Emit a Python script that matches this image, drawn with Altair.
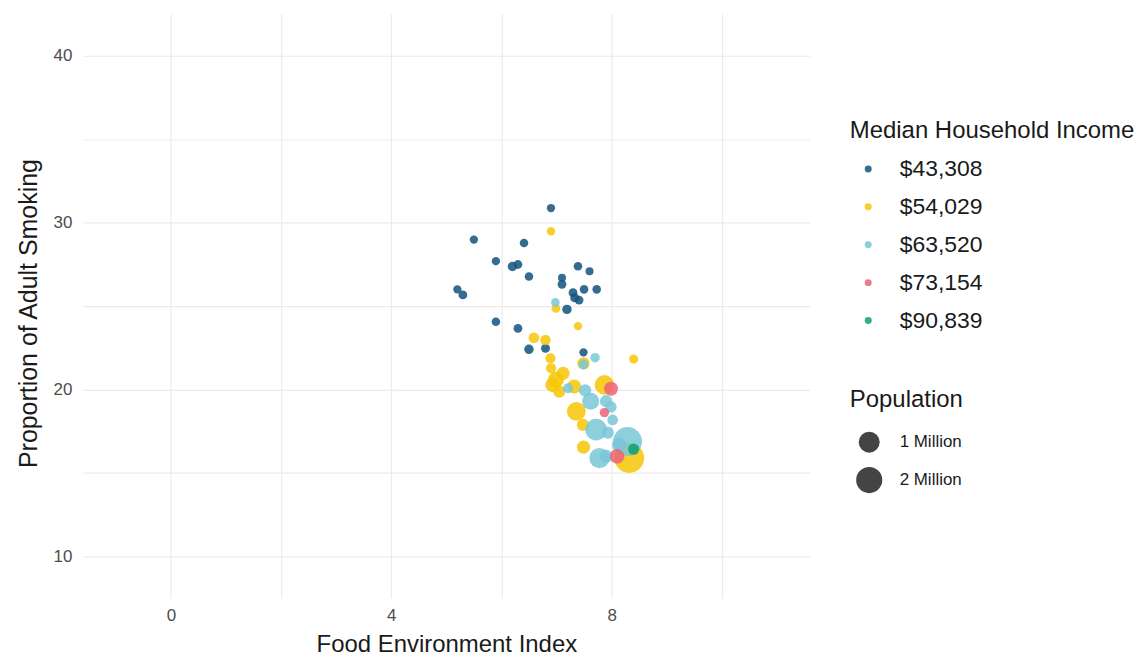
import altair as alt
import pandas as pd

income_levels = ["$43,308", "$54,029", "$63,520", "$73,154", "$90,839"]
palette = ["#12537F", "#F7C705", "#7AC7D7", "#EC637A", "#0E9F6E"]

# $43,308 group
g1_x = [6.90, 5.50, 6.41, 5.90, 6.20, 6.30, 6.50, 7.39, 7.60, 7.10, 7.10, 5.20, 5.30, 7.50,
        7.30, 7.33, 7.41, 7.73, 7.19, 5.90, 6.30, 6.50, 6.80, 7.49]
g1_y = [30.87, 28.98, 28.78, 27.69, 27.37, 27.49, 26.77, 27.39, 27.09, 26.69, 26.30, 26.00, 25.67, 26.00,
        25.80, 25.50, 25.36, 26.00, 24.80, 24.06, 23.66, 22.41, 22.47, 22.23]
g1_pop = [15000, 15000, 20000, 15000, 40000, 25000, 20000, 20000, 10000, 10000, 25000, 15000, 25000, 20000,
          25000, 30000, 25000, 20000, 40000, 20000, 25000, 40000, 30000, 15000]

# $54,029 group
g2_x = [6.90, 6.99, 7.39, 6.59, 6.80, 6.89, 7.49, 8.40, 6.90, 7.12, 6.99, 6.93, 7.05, 7.32,
        7.87, 7.36, 7.48, 7.49, 8.32]
g2_y = [29.48, 24.86, 23.80, 23.10, 22.97, 21.87, 21.57, 21.83, 21.28, 20.97, 20.60, 20.28, 19.88, 20.18,
        20.28, 18.70, 17.88, 16.55, 15.90]
g2_pop = [15000, 25000, 15000, 80000, 70000, 60000, 150000, 30000, 60000, 200000, 400000, 300000, 150000, 250000,
          800000, 700000, 150000, 200000, 3000000]

# $63,520 group
g3_x = [6.98, 7.70, 7.49, 7.21, 7.52, 7.62, 7.90, 7.99, 8.02, 7.72, 7.93, 8.14, 8.29, 7.78, 7.90]
g3_y = [25.22, 21.91, 21.50, 20.08, 19.95, 19.30, 19.30, 18.96, 18.18, 17.60, 17.42, 16.69, 16.89, 15.90, 16.00]
g3_pop = [20000, 40000, 60000, 60000, 150000, 500000, 150000, 100000, 80000, 1100000, 150000, 300000,
          2700000, 900000, 200000]

# $73,154 group
g4_x = [7.99, 7.87, 8.10]
g4_y = [20.05, 18.62, 16.00]
g4_pop = [250000, 40000, 300000]

# $90,839 group
g5_x = [8.40]
g5_y = [16.43]
g5_pop = [100000]

x_ticks = [0, 2, 4, 6, 8, 10]
y_ticks = [10, 15, 20, 25, 30, 35, 40]
size_breaks = [1000000, 2000000]

rows = []
for lvl, xs, ys, ps in zip(income_levels,
                           [g1_x, g2_x, g3_x, g4_x, g5_x],
                           [g1_y, g2_y, g3_y, g4_y, g5_y],
                           [g1_pop, g2_pop, g3_pop, g4_pop, g5_pop]):
    for xv, yv, pv in zip(xs, ys, ps):
        rows.append({"fei": xv, "smoking": yv, "pop": pv, "income": lvl})
df = pd.DataFrame(rows)

FONT = "Liberation Sans"
TXT = "#1a1a1a"
GRID = "#ebebeb"

chart = alt.Chart(df).mark_circle(opacity=0.85, strokeWidth=0).encode(
    x=alt.X("fei:Q", title="Food Environment Index",
            scale=alt.Scale(domain=[-1.6, 11.6], nice=False, zero=False),
            axis=alt.Axis(values=x_ticks, labelExpr="datum.value % 4 == 0 ? datum.label : ''",
                          ticks=False, domain=False, gridColor=GRID, gridWidth=1.2,
                          labelFontSize=17, labelColor="#4d4d4d", labelPadding=9, labelOverlap=False,
                          titleFontSize=24, titleColor=TXT, titleFontWeight="normal",
                          titleX=364.5, titleY=46, titleBaseline="middle", titleAlign="center")),
    y=alt.Y("smoking:Q", title="Proportion of Adult Smoking",
            scale=alt.Scale(domain=[7.5, 42.5], nice=False, zero=False),
            axis=alt.Axis(values=y_ticks, labelExpr="datum.value % 10 == 0 ? datum.label : ''",
                          ticks=False, domain=False, gridColor=GRID, gridWidth=1.2,
                          labelFontSize=17, labelColor="#4d4d4d", labelPadding=11, labelOverlap=False,
                          titleFontSize=25, titleColor=TXT, titleFontWeight="normal",
                          titleAngle=270, titleX=-54, titleY=300,
                          titleBaseline="middle", titleAlign="center")),
    color=alt.Color("income:N", sort=income_levels,
                    scale=alt.Scale(domain=income_levels, range=palette),
                    legend=alt.Legend(title="Median Household Income", orient="none",
                                      legendX=769, legendY=105, padding=0, titleLimit=400,
                                      titleFontSize=24, titleFontWeight="normal", titleColor=TXT,
                                      titlePadding=15, labelFontSize=23, labelColor=TXT,
                                      symbolType="circle", symbolSize=49, symbolOpacity=0.85,
                                      symbolStrokeWidth=0, symbolOffset=7, labelOffset=20,
                                      rowPadding=14)),
    size=alt.Size("pop:Q",
                  scale=alt.Scale(type="pow", exponent=0.706, domain=[0, 3000000], range=[49, 900]),
                  legend=alt.Legend(title="Population", orient="none", legendX=769, legendY=375,
                                    padding=0, values=size_breaks, titleLimit=400,
                                    labelExpr="datum.value == 1000000 ? '1 Million' : '2 Million'",
                                    titleFontSize=24, titleFontWeight="normal", titleColor=TXT,
                                    titlePadding=20, labelFontSize=17, labelColor=TXT,
                                    symbolType="circle", symbolFillColor="#444444",
                                    symbolStrokeWidth=0, symbolOpacity=1,
                                    symbolOffset=6, labelOffset=17, rowPadding=14)),
).properties(
    width=729, height=586,
    autosize=alt.AutoSizeParams(type="none"),
    padding={"left": 75, "top": 5, "right": 330, "bottom": 58},
).configure(font=FONT).configure_view(stroke=None)

chart.save("out.html", embed_options={"renderer": "svg", "actions": False})
